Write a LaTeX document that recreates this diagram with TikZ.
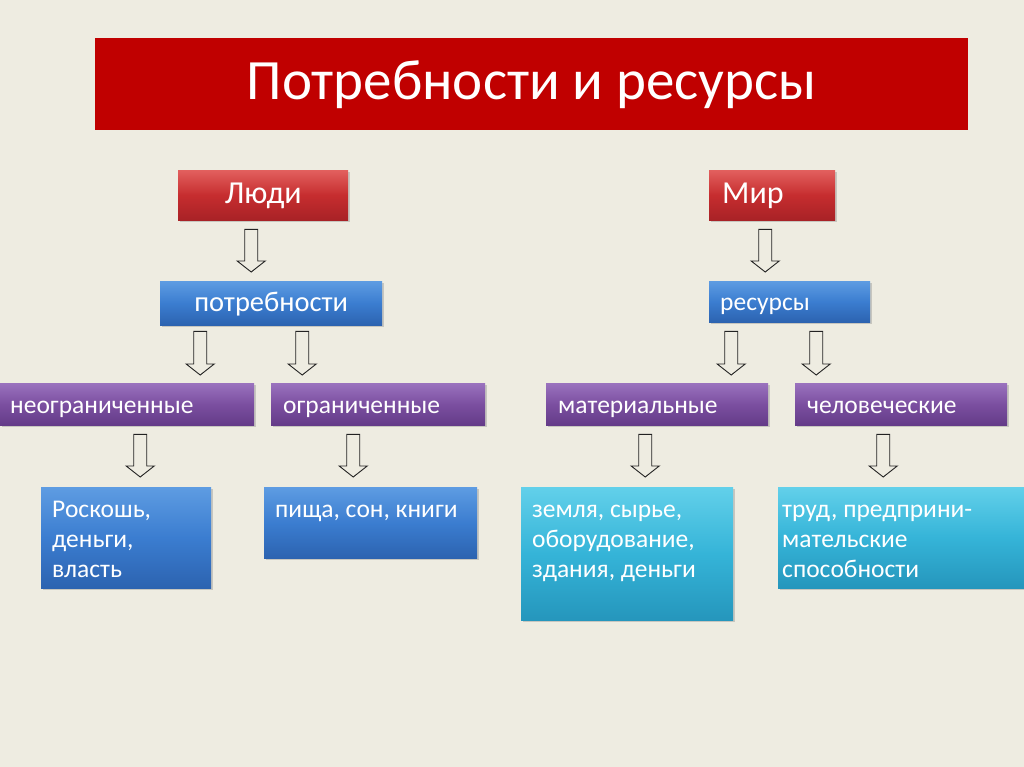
\documentclass[tikz,border=0pt]{standalone}
\usepackage{fontspec}
\setmainfont{Carlito}
\usepackage{tikz}
\usetikzlibrary{calc,shadows,positioning}

\definecolor{slidebg}{HTML}{EEECE1}
\definecolor{titlered}{HTML}{C00000}
\definecolor{redtop}{HTML}{E2605E}
\definecolor{redmid}{HTML}{C62D2F}
\definecolor{redbot}{HTML}{A82226}
\definecolor{bluetop}{HTML}{5E9CE2}
\definecolor{bluemid}{HTML}{3B7DD0}
\definecolor{bluebot}{HTML}{2C63B0}
\definecolor{violtop}{HTML}{9A72BE}
\definecolor{violmid}{HTML}{7B4FA0}
\definecolor{violbot}{HTML}{643B88}
\definecolor{cyantop}{HTML}{62D0EA}
\definecolor{cyanmid}{HTML}{35B4D8}
\definecolor{cyanbot}{HTML}{2596BC}
\definecolor{arrowline}{HTML}{222222}

\newcommand{\bodyfont}{\fontsize{25.5pt}{30.3pt}\selectfont}
\newcommand{\needfont}{\fontsize{28.5pt}{34pt}\selectfont}
\newcommand{\headfont}{\fontsize{32pt}{38pt}\selectfont}
\newcommand{\titlefont}{\fontsize{57pt}{66pt}\selectfont}

\tikzset{
  box/.style={rectangle, anchor=north west, text=white, inner sep=0pt,
    text height=19pt, text depth=0pt,
    drop shadow={opacity=0.35, shadow xshift=1.5pt, shadow yshift=-2pt}},
  redbox/.style={box, top color=redtop, bottom color=redbot, middle color=redmid, font=\headfont, text height=16pt},
  bluebox/.style={box, top color=bluetop, bottom color=bluebot, middle color=bluemid, font=\bodyfont},
  violbox/.style={box, top color=violtop, bottom color=violbot, middle color=violmid, font=\bodyfont},
  cyanbox/.style={box, top color=cyantop, bottom color=cyanbot, middle color=cyanmid},
  titlebar/.style={rectangle, anchor=north west, fill=titlered, text=white, font=\titlefont},
  bodytext/.style={anchor=north west, inner sep=0pt, text=white, font=\bodyfont, align=left},
  hollow/.style={draw=arrowline, fill=slidebg, line width=0.9pt, line join=miter,
    to path={let \p1=(\tikztostart), \p2=(\tikztotarget) in
      (\x1-6.5pt,\y1) -- (\x1+6.5pt,\y1) -- (\x1+6.5pt,\y2+11pt) -- (\x1+14pt,\y2+11pt)
      -- (\x1,\y2) -- (\x1-14pt,\y2+11pt) -- (\x1-6.5pt,\y2+11pt) -- cycle}}
}

\begin{document}
\begin{tikzpicture}[x=1pt, y=-1pt]
    \path[use as bounding box, fill=slidebg] (0,0) rectangle (1024,767);

    % Title
    \node[titlebar, minimum width=873pt, minimum height=92pt] (title) at (95,38) {Потребности и ресурсы};

    % People and world
    \node[redbox, minimum width=170pt, minimum height=50pt] (ludi) at (178,170) {Люди};
    \node[redbox, minimum width=126pt, minimum height=50pt, text width=100pt, align=left, inner xsep=13pt] (mir) at (709,170) {Мир};

    % Needs and resources
    \node[bluebox, font=\needfont, text height=17pt, minimum width=222pt, minimum height=44pt] (potr) at (160,281) {потребности};
    \node[bluebox, text height=17pt, minimum width=161pt, minimum height=41pt, text width=139pt, align=left, inner xsep=11pt] (res) at (709,281) {ресурсы};

    % Kinds
    \node[violbox, minimum width=254pt, minimum height=42pt, text width=234pt, align=left, inner xsep=10pt] (neogr) at (0,383) {неограниченные};
    \node[violbox, minimum width=214pt, minimum height=42pt, text width=190pt, align=left, inner xsep=12pt] (ogr) at (271,383) {ограниченные};
    \node[violbox, minimum width=222pt, minimum height=42pt, text width=198pt, align=left, inner xsep=12pt] (mat) at (546,383) {материальные};
    \node[violbox, minimum width=212pt, minimum height=42pt, text width=188pt, align=left, inner xsep=12pt] (chel) at (795,383) {человеческие};

    % Examples
    \node[bluebox, minimum width=170pt, minimum height=101pt] (lux) at (41,487) {};
    \node[bluebox, minimum width=213pt, minimum height=71pt] (food) at (264,487) {};
    \node[cyanbox, minimum width=212pt, minimum height=133pt] (land) at (521,487) {};
    \node[cyanbox, minimum width=246pt, minimum height=101pt] (labour) at (778,487) {};
    \node[bodytext] (lux-t) at ([shift={(11pt,-8.8pt)}]lux.north west) {\strut Роскошь,\\деньги,\\власть};
    \node[bodytext] (food-t) at ([shift={(11pt,-8.8pt)}]food.north west) {\strut пища, сон, книги};
    \node[bodytext] (land-t) at ([shift={(11pt,-8.8pt)}]land.north west) {\strut земля, сырье,\\оборудование,\\здания, деньги};
    \node[bodytext] (labour-t) at ([shift={(4pt,-8.8pt)}]labour.north west) {\strut труд, предприни-\\мательские\\способности};

    % Arrows
    \draw[hollow] ([xshift=-12pt,yshift=-9pt]ludi.south) to ([yshift=9pt]potr.north);
    \draw[hollow] ([xshift=-7pt,yshift=-9pt]mir.south) to ([yshift=9pt]res.north);
    \draw[hollow] ([xshift=-71pt,yshift=-6pt]potr.south) to ([yshift=8pt]neogr.north);
    \draw[hollow] ([xshift=31pt,yshift=-6pt]potr.south) to ([yshift=8pt]ogr.north);
    \draw[hollow] ([xshift=-58.5pt,yshift=-9pt]res.south) to ([yshift=8pt]mat.north);
    \draw[hollow] ([xshift=26.5pt,yshift=-9pt]res.south) to ([yshift=8pt]chel.north);
    \draw[hollow] ([xshift=13pt,yshift=-9pt]neogr.south) to ([yshift=10pt]lux.north);
    \draw[hollow] ([xshift=-25pt,yshift=-9pt]ogr.south) to ([yshift=10pt]food.north);
    \draw[hollow] ([xshift=-12pt,yshift=-9pt]mat.south) to ([yshift=10pt]land.north);
    \draw[hollow] ([xshift=-18pt,yshift=-9pt]chel.south) to ([yshift=10pt]labour.north);
\end{tikzpicture}
\end{document}
